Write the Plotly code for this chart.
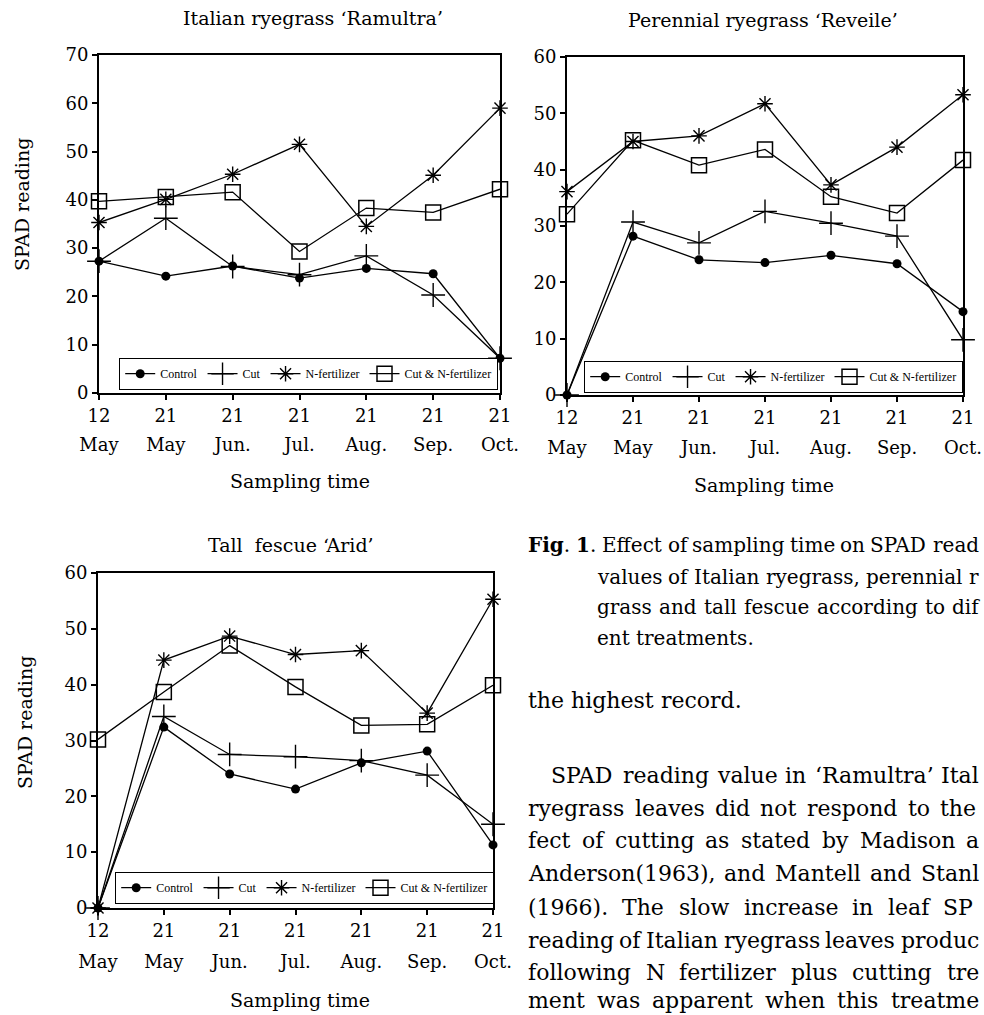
import plotly.graph_objects as go

W, H = 984, 1015

# ---------------- data ----------------
days = ["12", "21", "21", "21", "21", "21", "21"]
months = ["May", "May", "Jun.", "Jul.", "Aug.", "Sep.", "Oct."]
treatments = ["Control", "Cut", "N-fertilizer", "Cut & N-fertilizer"]

italian_control = [27.3, 24.2, 26.3, 23.8, 25.8, 24.7, 7.2]
italian_cut = [27.3, 36.2, 26.2, 24.5, 28.4, 20.3, 7.2]
italian_nfert = [35.3, 40.1, 45.3, 51.5, 34.5, 45.1, 59.0]
italian_cutn = [39.7, 40.6, 41.6, 29.3, 38.3, 37.4, 42.2]

perennial_control = [0.0, 28.2, 24.0, 23.5, 24.8, 23.3, 14.8]
perennial_cut = [0.0, 30.7, 27.0, 32.6, 30.5, 28.2, 9.8]
perennial_nfert = [36.1, 45.0, 46.0, 51.7, 37.3, 44.0, 53.3]
perennial_cutn = [32.1, 45.2, 40.8, 43.6, 35.2, 32.3, 41.7]

fescue_control = [0.0, 32.4, 24.0, 21.3, 26.0, 28.1, 11.3]
fescue_cut = [0.0, 34.3, 27.5, 27.1, 26.4, 23.8, 15.0]
fescue_nfert = [0.0, 44.4, 48.7, 45.4, 46.1, 34.9, 55.3]
fescue_cutn = [30.2, 38.7, 47.0, 39.6, 32.7, 32.9, 39.9]

titles = ["Italian ryegrass \u2018Ramultra\u2019", "Perennial ryegrass \u2018Reveile\u2019", "Tall\u00a0\u00a0fescue \u2018Arid\u2019"]
y_tick_sets = [[0, 10, 20, 30, 40, 50, 60, 70], [0, 10, 20, 30, 40, 50, 60], [0, 10, 20, 30, 40, 50, 60]]

# page text beside the figure (as visible in the cropped page)
caption_lines = [
    "Fig. 1. Effect of sampling time on SPAD read",
    "values of Italian ryegrass, perennial r",
    "grass and tall fescue according to dif",
    "ent treatments.",
]
body_lines = [
    "the highest record.",
    "SPAD reading value in \u2018Ramultra\u2019 Ital",
    "ryegrass leaves did not respond to the",
    "fect of cutting as stated by Madison a",
    "Anderson(1963), and Mantell and Stanl",
    "(1966). The slow increase in leaf SP",
    "reading of Italian ryegrass leaves produc",
    "following N fertilizer plus cutting tre",
    "ment was apparent when this treatme",
]

# ---------------- layout (pixel boxes) ----------------
SERIF = "DejaVu Serif"
panels = [
    dict(x0=99, x1=500, y0=55, y1=393, ymax=70, month_line=432,
         data=[italian_control, italian_cut, italian_nfert, italian_cutn],
         legend=(119, 358), title=(313, 18), xt=(300, 481), yt=(22, 205)),
    dict(x0=567, x1=963, y0=57, y1=395, ymax=60, month_line=435,
         data=[perennial_control, perennial_cut, perennial_nfert, perennial_cutn],
         legend=(584, 361), title=(763, 20), xt=(764, 485), yt=None),
    dict(x0=98, x1=493, y0=573, y1=908, ymax=60, month_line=949,
         data=[fescue_control, fescue_cut, fescue_nfert, fescue_cutn],
         legend=(115, 872), title=(291, 545), xt=(300, 1000), yt=(25, 723)),
]

markers = [
    dict(symbol="circle", size=9, color="black"),
    dict(symbol="cross-thin", size=17, color="black", line=dict(width=1.4, color="black")),
    dict(symbol="asterisk", size=13, color="black", line=dict(width=1.4, color="black")),
    dict(symbol="square-open", size=15, color="black", line=dict(width=1.5, color="black")),
]

fig = go.Figure()
annotations = []
xs = list(range(len(days)))
tickfont = dict(family=SERIF, size=18, color="black")

for i, p in enumerate(panels):
    sfx = "" if i == 0 else str(i + 1)
    xa, ya = "x" + sfx, "y" + sfx
    xm = "x" + str(i + 4)
    leg = "legend" if i == 0 else "legend" + str(i + 1)
    for t, (name, vals) in enumerate(zip(treatments, p["data"])):
        fig.add_trace(go.Scatter(
            x=xs, y=vals, name=name, mode="lines+markers",
            line=dict(color="black", width=1.3), marker=markers[t],
            xaxis=xa, yaxis=ya, legend=leg, cliponaxis=False,
        ))
    # empty helper trace so the month-label axis is drawn
    fig.add_trace(go.Scatter(x=xs, y=[None] * len(xs), mode="markers", showlegend=False,
                             hoverinfo="skip", xaxis=xm, yaxis=ya))
    axis_common = dict(showline=True, linecolor="black", linewidth=2, mirror=True,
                       ticks="outside", ticklen=5, tickwidth=1.5, tickcolor="black",
                       showgrid=False, zeroline=False, automargin=False, tickfont=tickfont)
    fig.layout["xaxis" + sfx] = dict(
        domain=[p["x0"] / W, p["x1"] / W], anchor=ya, range=[0, 6],
        tickmode="array", tickvals=xs, ticktext=days, **axis_common)
    fig.layout["yaxis" + sfx] = dict(
        domain=[1 - p["y1"] / H, 1 - p["y0"] / H], anchor=xa, range=[0, p["ymax"]],
        tickmode="array", tickvals=y_tick_sets[i], **axis_common)
    # second row of x tick labels (month names)
    fig.layout["xaxis" + str(i + 4)] = dict(
        overlaying=xa, anchor="free", position=1 - p["month_line"] / H, side="bottom",
        range=[0, 6], tickmode="array", tickvals=xs, ticktext=months, showline=False,
        ticks="", showgrid=False, zeroline=False, automargin=False, tickfont=tickfont)
    lx, ly = p["legend"]
    fig.layout[leg] = dict(
        x=lx / W, y=1 - ly / H, xanchor="left", yanchor="top", xref="paper", yref="paper",
        orientation="h", bgcolor="white", bordercolor="black", borderwidth=1.2,
        font=dict(family="Liberation Serif", size=12, color="black"),
        itemwidth=30, tracegroupgap=0,
    )
    tx, ty = p["title"]
    annotations.append(dict(text=titles[i], x=tx / W, y=1 - ty / H, xref="paper", yref="paper",
                            showarrow=False, xanchor="center", yanchor="middle",
                            font=dict(family=SERIF, size=19, color="black")))
    sx, sy = p["xt"]
    annotations.append(dict(text="Sampling time", x=sx / W, y=1 - sy / H, xref="paper", yref="paper",
                            showarrow=False, xanchor="center", yanchor="middle",
                            font=dict(family=SERIF, size=19, color="black")))
    if p["yt"]:
        yx, yy = p["yt"]
        annotations.append(dict(text="SPAD reading", x=yx / W, y=1 - yy / H, xref="paper", yref="paper",
                                showarrow=False, xanchor="center", yanchor="middle", textangle=-90,
                                font=dict(family=SERIF, size=19, color="black")))

# ---------------- justified page text ----------------
CW = dict(a=.596, b=.640, c=.560, d=.640, e=.592, f=.370, g=.640, h=.644, i=.320, j=.310, k=.606,
          l=.320, m=.948, n=.644, o=.602, p=.640, q=.640, r=.478, s=.513, t=.402, u=.644, v=.565,
          w=.856, x=.564, y=.565, z=.527, A=.722, C=.735, D=.802, E=.729, F=.693, I=.395, M=.995,
          N=.815, P=.673, R=.753, S=.685, T=.712)
CW.update({" ": .318, ".": .318, ",": .318, "(": .390, ")": .390, "\u2018": .318, "\u2019": .318,
           "-": .338, "&": .890})
for dgt in "0123456789":
    CW[dgt] = .636


def text_w(s, size, bold=False):
    return sum(CW.get(ch, .6) for ch in s) * size * (1.1 if bold else 1.0)


def place_line(line, x0, x1, y, size, bold_words=()):
    words = line.split(" ")
    widths = [text_w(w, size, w in bold_words) for w in words]
    if x1 is None or len(words) == 1:
        gap = text_w(" ", size)
    else:
        gap = (x1 - x0 - sum(widths)) / (len(words) - 1)
    x = x0
    for w, wd in zip(words, widths):
        txt = w
        if w in bold_words:
            txt = "<b>" + w.rstrip(".") + "</b>" + ("." if w.endswith(".") else "")
        annotations.append(dict(text=txt, x=x / W, y=1 - y / H, xref="paper", yref="paper",
                                showarrow=False, xanchor="left", yanchor="middle", borderpad=0,
                                font=dict(family=SERIF, size=size, color="black")))
        x += wd + gap


cap_layout = [(527, 978, 545), (596, 978, 577), (596, 978, 607), (596, None, 638)]
for (x0, x1, y), line in zip(cap_layout, caption_lines):
    place_line(line, x0, x1, y, 20, bold_words=("Fig.", "1."))

body_layout = [(527, None, 700), (550, 978, 775), (527, 975, 808), (527, 978, 840), (527, 978, 873),
               (527, 972, 907), (527, 978, 940), (527, 978, 972), (527, 978, 1000)]
for (x0, x1, y), line in zip(body_layout, body_lines):
    place_line(line, x0, x1, y, 22)

fig.update_layout(
    width=W, height=H, margin=dict(l=0, r=0, t=0, b=0, autoexpand=False),
    paper_bgcolor="white", plot_bgcolor="white", template="none",
    annotations=annotations, showlegend=True,
    font=dict(family=SERIF, color="black"),
)

fig.write_html("out.html", config={"displayModeBar": False},
               post_script="document.body.style.margin='0';")
